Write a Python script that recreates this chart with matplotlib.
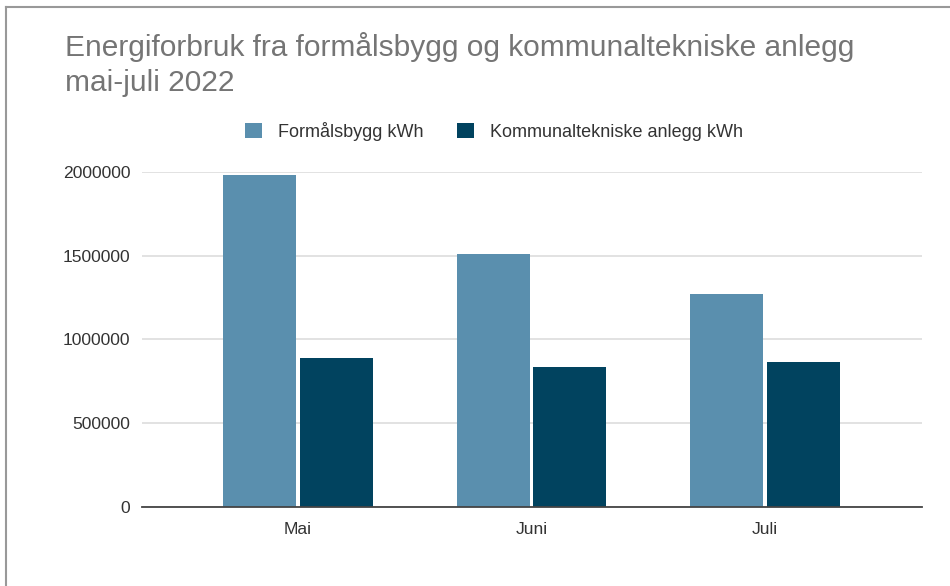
import numpy as np
import matplotlib.pyplot as plt
from matplotlib.lines import Line2D

plt.rcParams['font.family'] = ['Liberation Sans', 'DejaVu Sans']

months = ['Mai', 'Juni', 'Juli']
formalsbygg = [1985000, 1508000, 1270000]
kommunalteknisk = [892000, 836000, 866000]
series_names = ['Formålsbygg kWh', 'Kommunaltekniske anlegg kWh']
yticks = [0, 500000, 1000000, 1500000, 2000000]

light = '#5a8fae'
dark = '#01435f'

fig = plt.figure(figsize=(9.5, 5.86), dpi=100)
ax = fig.add_axes([0.1495, 0.1348, 0.821, 0.5717])

x = np.arange(len(months))
w = 0.313
off = 0.164
ax.bar(x - off, formalsbygg, w, color=light, label=series_names[0])
ax.bar(x + off, kommunalteknisk, w, color=dark, label=series_names[1])

ax.set_xlim(-0.668, 2.672)
ax.set_ylim(0, 2000000)
ax.set_yticks(yticks)
ax.set_yticklabels([str(v) for v in yticks])
ax.set_xticks(x)
ax.set_xticklabels(months)
ax.tick_params(length=0, labelsize=12.6, colors='#333333')
ax.tick_params(axis='y', pad=8.5)
ax.tick_params(axis='x', pad=11)
ax.grid(axis='y', color='#dddddd', lw=1.2)
ax.set_axisbelow(True)
for s in ['top', 'right', 'left']:
    ax.spines[s].set_visible(False)
ax.spines['bottom'].set_color('#444444')
ax.spines['bottom'].set_linewidth(1.3)
ax.spines['bottom'].set_zorder(3)

fig.text(0.068, 0.945, 'Energiforbruk fra formålsbygg og kommunaltekniske anlegg\nmai-juli 2022',
         fontsize=21.5, color='#757575', va='top', linespacing=1.3)

fig.legend(loc='center', bbox_to_anchor=(0.52, 0.776), ncol=2, frameon=False,
           fontsize=13, handlelength=0.95, handleheight=0.95, columnspacing=1.8,
           handletextpad=0.9, labelcolor='#333333')

# frame lines left and top
fig.add_artist(Line2D([0.006, 0.006], [0, 0.988], transform=fig.transFigure, color='#999999', lw=1.5))
fig.add_artist(Line2D([0.006, 1], [0.988, 0.988], transform=fig.transFigure, color='#999999', lw=1.5))

fig.savefig('out.png', dpi=100)
